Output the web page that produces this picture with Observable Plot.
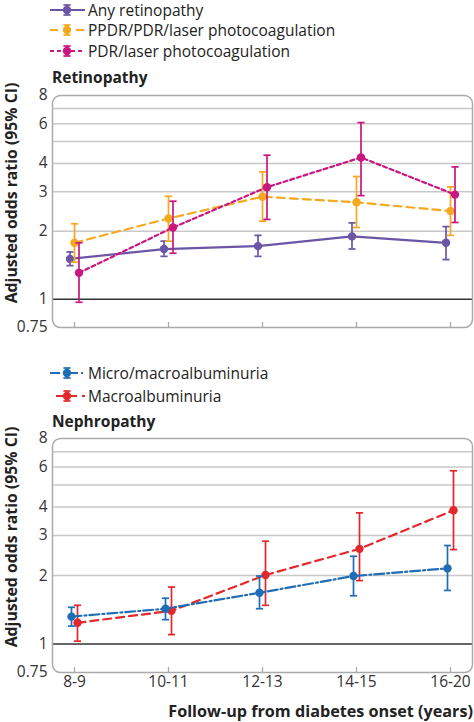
<!DOCTYPE html>
<html>
<head>
<meta charset="utf-8">
<script src="https://cdn.jsdelivr.net/npm/d3@7"></script>
<script src="https://cdn.jsdelivr.net/npm/@observablehq/plot@0.6"></script>
<style>
  html, body { margin: 0; padding: 0; background: #fff; }
  #root { position: relative; width: 474px; height: 722px; overflow: hidden; font-family: "Open Sans", sans-serif; color: #222; }
  .abs { position: absolute; white-space: nowrap; }
  .leg { position: absolute; left: 48px; height: 20px; display: flex; align-items: center; font-size: 15.5px; line-height: 20px; }
  .leg svg { margin-right: 3px; }
  .title { font-weight: bold; font-size: 15.5px; line-height: 20px; }
  .ylab { font-weight: bold; font-size: 15.8px; transform: translate(-50%, -50%) rotate(-90deg); }
</style>
</head>
<body>
<div id="root"></div>
<script>
// ---------- data ----------
const categories = ["8-9", "10-11", "12-13", "14-15", "16-20"];
const yTicks = [0.75, 1, 2, 3, 4, 6, 8];
const gridValues = [2, 3, 4, 5, 6, 7];

const anyRetinopathy    = [1.51, 1.67, 1.72, 1.90, 1.78];
const anyRetinopathyLo  = [1.41, 1.55, 1.55, 1.67, 1.50];
const anyRetinopathyHi  = [1.62, 1.81, 1.92, 2.18, 2.10];

const ppdrLaser   = [1.78, 2.28, 2.85, 2.69, 2.46];
const ppdrLaserLo = [1.46, 1.81, 2.22, 2.08, 1.92];
const ppdrLaserHi = [2.16, 2.86, 3.67, 3.50, 3.15];

const pdrLaser   = [1.31, 2.08, 3.14, 4.25, 2.91];
const pdrLaserLo = [0.97, 1.60, 2.26, 2.88, 2.19];
const pdrLaserHi = [1.78, 2.72, 4.35, 6.07, 3.86];

const microMacro   = [1.32, 1.43, 1.68, 1.99, 2.15];
const microMacroLo = [1.20, 1.28, 1.43, 1.63, 1.72];
const microMacroHi = [1.45, 1.59, 1.99, 2.43, 2.71];

const macro   = [1.24, 1.40, 2.01, 2.62, 3.87];
const macroLo = [1.03, 1.10, 1.48, 1.90, 2.60];
const macroHi = [1.48, 1.78, 2.83, 3.77, 5.77];

const retSeries = [
  { name: "Any retinopathy", v: anyRetinopathy, lo: anyRetinopathyLo, hi: anyRetinopathyHi, color: "#6a55a6", dash: null, dx: -4.5 },
  { name: "PPDR/PDR/laser photocoagulation", v: ppdrLaser, lo: ppdrLaserLo, hi: ppdrLaserHi, color: "#f5a91f", dash: "8,5", dx: 0 },
  { name: "PDR/laser photocoagulation", v: pdrLaser, lo: pdrLaserLo, hi: pdrLaserHi, color: "#c8177f", dash: "4,3", dx: 4.5 }
];
const nephSeries = [
  { name: "Macroalbuminuria", v: macro, lo: macroLo, hi: macroHi, color: "#e2272d", dash: "8,5", dx: 3 },
  { name: "Micro/macroalbuminuria", v: microMacro, lo: microMacroLo, hi: microMacroHi, color: "#1f6db4", dash: "10,3,2,3", dx: -3 }
];
const nephLegendOrder = ["Micro/macroalbuminuria", "Macroalbuminuria"];

// ---------- helpers ----------
const cap = { draw(ctx, size) { const w = Math.sqrt(size / Math.PI); ctx.moveTo(-w, 0); ctx.lineTo(w, 0); } };

function seriesMarks(s) {
  const data = categories.map((c, i) => ({ cat: c, v: s.v[i], lo: s.lo[i], hi: s.hi[i] }));
  return [
    Plot.line(data, { x: "cat", y: "v", dx: s.dx, stroke: s.color, strokeWidth: 2.2, strokeDasharray: s.dash }),
    Plot.ruleX(data, { x: "cat", y1: "lo", y2: "hi", dx: s.dx, stroke: s.color, strokeWidth: 1.7 }),
    Plot.dot(data, { x: "cat", y: "lo", dx: s.dx, symbol: cap, r: 3.6, stroke: s.color, strokeWidth: 1.7 }),
    Plot.dot(data, { x: "cat", y: "hi", dx: s.dx, symbol: cap, r: 3.6, stroke: s.color, strokeWidth: 1.7 }),
    Plot.dot(data, { x: "cat", y: "v", dx: s.dx, r: 4.2, fill: s.color })
  ];
}

function panel(series, { height, marginBottom, showXLabels }) {
  const marginTop = 10;
  const plotH = height - marginTop - marginBottom;
  return Plot.plot({
    width: 474,
    height,
    marginLeft: 52,
    marginRight: 2,
    marginTop,
    marginBottom,
    style: { fontFamily: "Open Sans, sans-serif", fontSize: "15.5px", color: "#333", overflow: "visible" },
    x: { type: "point", domain: categories, padding: 0.222, label: null },
    y: { type: "log", domain: [0.75, 8], label: null },
    marks: [
      Plot.ruleY(gridValues, { stroke: "#c8c8c8", strokeWidth: 1.5 }),
      Plot.ruleY([1], { stroke: "#333", strokeWidth: 1.5 }),
      Plot.frame({ stroke: "#aaa", strokeWidth: 1.5, rx: 8 }),
      Plot.tickX(categories, { x: d => d, insetTop: plotH - 5, stroke: "#aaa", strokeWidth: 1.3 }),
      Plot.axisY({ ticks: yTicks, tickFormat: d => String(d), tickSize: 0, tickPadding: 5, fontSize: 15.5, label: null }),
      showXLabels
        ? Plot.axisX({ tickSize: 0, tickPadding: 3, fontSize: 15.5, label: null })
        : Plot.axisX({ tickSize: 0, tickFormat: () => "", label: null }),
      ...series.flatMap(seriesMarks)
    ]
  });
}

function legendItem(s, top, lineStart) {
  const div = document.createElement("div");
  div.className = "leg";
  div.style.top = top + "px";
  const W = 37, cx = 19;
  const dashAttr = s.dash ? `stroke-dasharray="${s.dash}"` : "";
  div.innerHTML =
    `<svg width="${W}" height="20" viewBox="0 0 ${W} 20">
       <line x1="${lineStart}" x2="${W}" y1="10" y2="10" stroke="${s.color}" stroke-width="2.2" ${dashAttr}/>
       <line x1="${cx}" x2="${cx}" y1="5" y2="15" stroke="${s.color}" stroke-width="1.7"/>
       <line x1="${cx - 3.6}" x2="${cx + 3.6}" y1="5" y2="5" stroke="${s.color}" stroke-width="1.7"/>
       <line x1="${cx - 3.6}" x2="${cx + 3.6}" y1="15" y2="15" stroke="${s.color}" stroke-width="1.7"/>
       <circle cx="${cx}" cy="10" r="4.2" fill="${s.color}"/>
     </svg><span>${s.name}</span>`;
  return div;
}

function absText(text, cls, css) {
  const d = document.createElement("div");
  d.className = "abs " + cls;
  d.textContent = text;
  Object.assign(d.style, css);
  return d;
}

// ---------- layout ----------
const root = document.getElementById("root");

// Retinopathy legend
retSeries.forEach((s, i) => root.appendChild(legendItem(s, [0, 20, 41][i], 2)));
root.appendChild(absText("Retinopathy", "title", { left: "52px", top: "67px" }));

const p1 = panel(retSeries, { height: 244, marginBottom: 2, showXLabels: false });
Object.assign(p1.style, { position: "absolute", left: "0px", top: "85px" });
root.appendChild(p1);
root.appendChild(absText("Adjusted odds ratio (95% CI)", "ylab", { left: "11px", top: "193px" }));

// Nephropathy legend
nephLegendOrder.forEach((n, i) => {
  const s = nephSeries.find(d => d.name === n);
  root.appendChild(legendItem(s, [363, 386][i], i === 0 ? 2 : 8));
});
root.appendChild(absText("Nephropathy", "title", { left: "52px", top: "411px" }));

const p2 = panel(nephSeries, { height: 266, marginBottom: 22, showXLabels: true });
Object.assign(p2.style, { position: "absolute", left: "0px", top: "428px" });
root.appendChild(p2);
root.appendChild(absText("Adjusted odds ratio (95% CI)", "ylab", { left: "11px", top: "537px" }));

root.appendChild(absText("Follow-up from diabetes onset (years)", "title", { right: "1px", top: "701px", fontSize: "16.2px" }));
</script>
</body>
</html>
